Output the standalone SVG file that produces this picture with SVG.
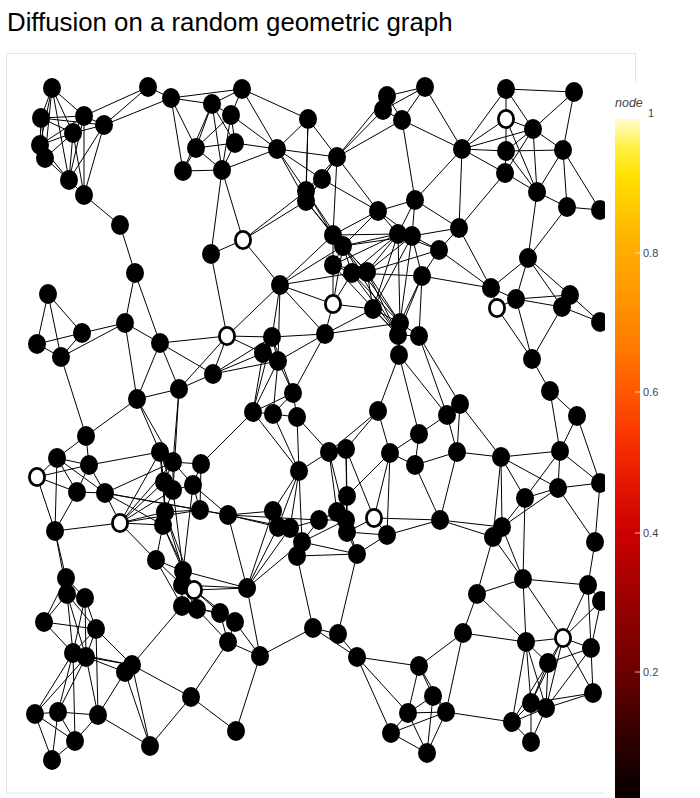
<svg xmlns="http://www.w3.org/2000/svg" width="700" height="798" viewBox="0 0 700 798">
<style>
.e path{stroke:#000;stroke-width:1;fill:none}
.n{fill:#000}
.h{fill:#fff;stroke:#000;stroke-width:2.8}
.t{font-family:"Liberation Sans",Arial,sans-serif;fill:#444;font-size:11px}
</style>
<defs>
<linearGradient id="hot" gradientUnits="userSpaceOnUse" x1="0" y1="812" x2="0" y2="113">
<stop offset="0" stop-color="#000000"/>
<stop offset="0.05" stop-color="#120000"/>
<stop offset="0.1" stop-color="#2e0000"/>
<stop offset="0.15" stop-color="#4c0000"/>
<stop offset="0.2" stop-color="#6c0000"/>
<stop offset="0.27" stop-color="#8c0000"/>
<stop offset="0.33" stop-color="#a80000"/>
<stop offset="0.4" stop-color="#cc0000"/>
<stop offset="0.47" stop-color="#e41800"/>
<stop offset="0.53" stop-color="#f83000"/>
<stop offset="0.6" stop-color="#ff5800"/>
<stop offset="0.67" stop-color="#ff7c00"/>
<stop offset="0.73" stop-color="#ff9400"/>
<stop offset="0.8" stop-color="#ffab00"/>
<stop offset="0.86" stop-color="#ffc600"/>
<stop offset="0.91" stop-color="#ffe000"/>
<stop offset="0.95" stop-color="#fff040"/>
<stop offset="1" stop-color="#ffffe8"/>
</linearGradient>
</defs>
<rect x="0" y="0" width="700" height="798" fill="#fff"/>
<text x="7" y="31" font-family="Liberation Sans, Arial, sans-serif" font-size="25.8" fill="#000">Diffusion on a random geometric graph</text>
<rect x="6.5" y="53.5" width="629" height="739.5" fill="none" stroke="#e5e5e5" stroke-width="1"/>
<g id="connectors" class="e">
<path d="M52 88L41 118"/><path d="M52 88L84 116"/><path d="M52 88L73 133"/><path d="M52 88L40 145"/><path d="M52 88L45 158"/><path d="M52 88L69 180"/>
<path d="M41 118L84 116"/><path d="M41 118L73 133"/><path d="M41 118L104 125"/><path d="M41 118L40 145"/><path d="M41 118L45 158"/>
<path d="M84 116L73 133"/><path d="M84 116L104 125"/><path d="M84 116L40 145"/><path d="M84 116L69 180"/><path d="M84 116L84 195"/><path d="M84 116L148 87"/>
<path d="M73 133L104 125"/><path d="M73 133L40 145"/><path d="M73 133L45 158"/><path d="M73 133L69 180"/><path d="M73 133L84 195"/>
<path d="M104 125L69 180"/><path d="M104 125L84 195"/><path d="M104 125L148 87"/><path d="M104 125L171 98"/>
<path d="M40 145L45 158"/><path d="M40 145L69 180"/><path d="M45 158L69 180"/><path d="M69 180L84 195"/><path d="M84 195L120 225"/><path d="M120 225L135 273"/>
<path d="M148 87L171 98"/><path d="M171 98L212 104"/><path d="M171 98L242 89"/><path d="M171 98L196 148"/><path d="M171 98L183 171"/>
<path d="M212 104L231 115"/><path d="M212 104L242 89"/><path d="M212 104L196 148"/><path d="M212 104L235 143"/><path d="M212 104L183 171"/><path d="M212 104L222 170"/>
<path d="M231 115L242 89"/><path d="M231 115L196 148"/><path d="M231 115L235 143"/><path d="M231 115L222 170"/>
<path d="M196 148L235 143"/><path d="M196 148L183 171"/><path d="M196 148L222 170"/><path d="M235 143L222 170"/><path d="M183 171L222 170"/>
<path d="M231 115L277 149"/><path d="M242 89L277 149"/><path d="M235 143L277 149"/><path d="M222 170L277 149"/><path d="M242 89L308 119"/>
<path d="M277 149L308 119"/><path d="M277 149L337 157"/><path d="M277 149L322 179"/><path d="M277 149L306 191"/><path d="M277 149L306 201"/>
<path d="M308 119L337 157"/><path d="M308 119L306 191"/><path d="M308 119L306 201"/>
<path d="M337 157L322 179"/><path d="M337 157L306 191"/><path d="M337 157L306 201"/><path d="M337 157L387 96"/><path d="M337 157L383 110"/><path d="M337 157L402 120"/><path d="M337 157L378 211"/><path d="M337 157L333 235"/>
<path d="M322 179L306 191"/><path d="M322 179L306 201"/><path d="M322 179L378 211"/><path d="M306 191L306 201"/>
<path d="M306 191L333 235"/><path d="M306 191L343 246"/><path d="M306 201L333 235"/><path d="M306 201L343 246"/>
<path d="M306 191L243 240"/><path d="M306 201L243 240"/><path d="M222 170L243 240"/><path d="M222 170L211 254"/><path d="M243 240L211 254"/>
<path d="M387 96L383 110"/><path d="M387 96L402 120"/><path d="M387 96L425 87"/><path d="M383 110L402 120"/><path d="M383 110L425 87"/><path d="M402 120L425 87"/>
<path d="M402 120L415 200"/><path d="M402 120L462 149"/><path d="M425 87L462 149"/><path d="M462 149L415 200"/>
<path d="M415 200L378 211"/><path d="M415 200L398 234"/><path d="M415 200L412 236"/><path d="M415 200L459 228"/>
<path d="M378 211L333 235"/><path d="M378 211L343 246"/><path d="M378 211L398 234"/><path d="M378 211L412 236"/>
<path d="M459 228L412 236"/><path d="M459 228L439 250"/>
<path d="M462 149L506 89"/><path d="M462 149L506 119"/><path d="M462 149L533 129"/><path d="M462 149L506 151"/><path d="M462 149L505 173"/><path d="M462 149L459 228"/>
<path d="M506 89L574 92"/><path d="M506 89L506 119"/><path d="M506 89L533 129"/><path d="M574 92L533 129"/><path d="M574 92L563 150"/>
<path d="M506 119L533 129"/><path d="M506 119L506 151"/><path d="M506 119L537 192"/>
<path d="M533 129L506 151"/><path d="M533 129L563 150"/><path d="M533 129L505 173"/><path d="M533 129L537 192"/>
<path d="M506 151L563 150"/><path d="M506 151L505 173"/><path d="M506 151L537 192"/>
<path d="M563 150L537 192"/><path d="M563 150L567 207"/><path d="M563 150L600 210"/>
<path d="M505 173L537 192"/><path d="M505 173L459 228"/><path d="M537 192L567 207"/><path d="M537 192L528 258"/><path d="M567 207L600 210"/><path d="M567 207L528 258"/>
<path d="M459 228L491 288"/><path d="M439 250L491 288"/><path d="M422 276L491 288"/><path d="M528 258L491 288"/>
<path d="M528 258L516 299"/><path d="M528 258L570 295"/><path d="M528 258L562 307"/>
<path d="M491 288L497 308"/><path d="M491 288L516 299"/><path d="M497 308L516 299"/><path d="M497 308L532 359"/>
<path d="M516 299L570 295"/><path d="M516 299L562 307"/><path d="M516 299L532 359"/>
<path d="M570 295L562 307"/><path d="M570 295L600 322"/><path d="M562 307L600 322"/><path d="M562 307L532 359"/>
<path d="M532 359L550 391"/><path d="M550 391L577 416"/><path d="M550 391L560 451"/><path d="M577 416L560 451"/><path d="M577 416L600 483"/>
<path d="M48 294L82 333"/><path d="M48 294L37 344"/><path d="M48 294L61 357"/><path d="M82 333L37 344"/><path d="M82 333L61 357"/><path d="M37 344L61 357"/>
<path d="M82 333L125 323"/><path d="M61 357L125 323"/><path d="M125 323L135 273"/><path d="M135 273L160 343"/><path d="M125 323L160 343"/><path d="M125 323L137 399"/>
<path d="M160 343L227 336"/><path d="M160 343L213 374"/><path d="M160 343L179 389"/><path d="M160 343L137 399"/>
<path d="M227 336L213 374"/><path d="M227 336L179 389"/><path d="M213 374L179 389"/><path d="M179 389L137 399"/>
<path d="M211 254L227 336"/><path d="M61 357L86 436"/>
<path d="M243 240L280 285"/><path d="M227 336L280 285"/><path d="M280 285L333 304"/><path d="M280 285L325 334"/><path d="M280 285L272 337"/><path d="M280 285L278 361"/>
<path d="M280 285L333 235"/><path d="M280 285L343 246"/><path d="M280 285L352 273"/>
<path d="M333 304L325 334"/><path d="M333 304L333 265"/><path d="M333 304L352 273"/><path d="M333 304L373 309"/><path d="M333 304L343 246"/>
<path d="M325 334L272 337"/><path d="M325 334L278 361"/><path d="M325 334L293 393"/><path d="M325 334L373 309"/><path d="M325 334L400 323"/>
<path d="M227 336L272 337"/><path d="M227 336L263 353"/><path d="M213 374L272 337"/><path d="M213 374L263 353"/><path d="M213 374L278 361"/>
<path d="M272 337L263 353"/><path d="M272 337L278 361"/><path d="M272 337L293 393"/><path d="M263 353L278 361"/><path d="M263 353L253 412"/>
<path d="M278 361L293 393"/><path d="M278 361L253 412"/><path d="M278 361L273 414"/>
<path d="M293 393L253 412"/><path d="M293 393L273 414"/><path d="M293 393L297 417"/><path d="M272 337L253 412"/>
<path d="M333 265L352 273"/><path d="M333 265L367 272"/><path d="M333 265L333 235"/><path d="M333 265L343 246"/>
<path d="M352 273L367 272"/><path d="M352 273L343 246"/><path d="M352 273L398 234"/><path d="M367 272L398 234"/><path d="M367 272L412 236"/>
<path d="M367 272L373 309"/><path d="M367 272L400 323"/><path d="M352 273L400 323"/><path d="M352 273L398 335"/><path d="M367 272L398 335"/>
<path d="M367 272L439 250"/><path d="M352 273L422 276"/>
<path d="M343 246L400 323"/><path d="M343 246L398 335"/><path d="M333 265L398 335"/><path d="M333 235L398 234"/><path d="M343 246L398 234"/><path d="M343 246L412 236"/>
<path d="M333 265L398 234"/><path d="M398 234L373 309"/><path d="M412 236L373 309"/><path d="M398 234L400 323"/><path d="M412 236L400 323"/><path d="M422 276L398 335"/>
<path d="M333 235L367 272"/><path d="M343 246L367 272"/>
<path d="M398 234L412 236"/><path d="M398 234L439 250"/><path d="M412 236L439 250"/><path d="M412 236L422 276"/><path d="M439 250L422 276"/>
<path d="M422 276L419 336"/><path d="M422 276L400 323"/><path d="M400 323L419 336"/><path d="M398 335L419 336"/><path d="M400 323L398 335"/>
<path d="M400 323L399 355"/><path d="M398 335L399 355"/><path d="M373 309L400 323"/><path d="M373 309L398 335"/>
<path d="M399 355L378 411"/><path d="M399 355L419 434"/><path d="M399 355L447 415"/><path d="M419 336L460 404"/><path d="M419 336L447 415"/>
<path d="M86 436L57 458"/><path d="M86 436L89 465"/><path d="M86 436L137 399"/>
<path d="M57 458L37 477"/><path d="M57 458L89 465"/><path d="M57 458L77 492"/><path d="M57 458L105 493"/><path d="M57 458L55 531"/>
<path d="M37 477L89 465"/><path d="M37 477L77 492"/><path d="M37 477L55 531"/>
<path d="M89 465L77 492"/><path d="M89 465L105 493"/><path d="M89 465L160 452"/><path d="M77 492L105 493"/><path d="M77 492L55 531"/>
<path d="M105 493L120 523"/><path d="M105 493L173 462"/><path d="M105 493L200 510"/><path d="M105 493L228 515"/><path d="M105 493L163 525"/>
<path d="M120 523L55 531"/><path d="M120 523L160 452"/><path d="M120 523L173 462"/><path d="M120 523L164 482"/><path d="M120 523L173 490"/><path d="M120 523L165 512"/><path d="M120 523L163 525"/><path d="M120 523L200 510"/><path d="M120 523L156 560"/>
<path d="M160 452L173 462"/><path d="M160 452L164 482"/><path d="M160 452L173 490"/><path d="M160 452L165 512"/>
<path d="M137 399L160 452"/><path d="M137 399L173 462"/><path d="M179 389L173 462"/><path d="M179 389L173 490"/>
<path d="M173 462L201 464"/><path d="M173 462L164 482"/><path d="M173 462L173 490"/><path d="M173 462L193 485"/>
<path d="M201 464L193 485"/><path d="M201 464L200 510"/><path d="M201 464L253 412"/>
<path d="M164 482L173 490"/><path d="M164 482L165 512"/><path d="M173 490L193 485"/><path d="M173 490L165 512"/>
<path d="M193 485L200 510"/><path d="M193 485L228 515"/><path d="M200 510L228 515"/><path d="M200 510L165 512"/>
<path d="M165 512L163 525"/><path d="M163 525L156 560"/><path d="M156 560L183 571"/><path d="M183 571L194 590"/><path d="M183 571L182 585"/><path d="M194 590L182 585"/>
<path d="M156 560L182 585"/><path d="M165 512L183 571"/><path d="M163 525L183 571"/><path d="M163 525L194 590"/>
<path d="M173 490L183 571"/><path d="M165 512L194 590"/><path d="M193 485L183 571"/>
<path d="M253 412L273 414"/><path d="M273 414L297 417"/><path d="M253 412L299 471"/><path d="M273 414L299 471"/><path d="M297 417L299 471"/><path d="M297 417L329 452"/>
<path d="M299 471L329 452"/><path d="M299 471L273 511"/><path d="M299 471L278 527"/><path d="M299 471L290 528"/><path d="M299 471L302 542"/>
<path d="M329 452L346 449"/><path d="M329 452L337 512"/><path d="M329 452L346 520"/>
<path d="M378 411L346 449"/><path d="M378 411L329 452"/><path d="M346 449L347 496"/><path d="M346 449L347 532"/><path d="M346 449L374 518"/>
<path d="M378 411L390 453"/><path d="M419 434L390 453"/><path d="M419 434L415 465"/><path d="M419 434L447 415"/>
<path d="M390 453L415 465"/><path d="M415 465L457 452"/><path d="M390 453L374 518"/><path d="M390 453L347 496"/><path d="M390 453L387 535"/>
<path d="M415 465L440 520"/><path d="M457 452L440 520"/><path d="M440 520L387 535"/>
<path d="M228 515L273 511"/><path d="M228 515L278 527"/><path d="M228 515L290 528"/><path d="M228 515L319 520"/>
<path d="M273 511L278 527"/><path d="M273 511L290 528"/><path d="M278 527L290 528"/><path d="M290 528L302 542"/><path d="M302 542L297 556"/>
<path d="M290 528L319 520"/><path d="M319 520L337 512"/><path d="M319 520L346 520"/>
<path d="M347 496L337 512"/><path d="M347 496L346 520"/><path d="M347 496L347 532"/><path d="M337 512L346 520"/><path d="M346 520L347 532"/>
<path d="M347 532L374 518"/><path d="M374 518L387 535"/><path d="M347 532L387 535"/><path d="M347 532L357 554"/><path d="M346 520L357 554"/><path d="M357 554L387 535"/>
<path d="M302 542L357 554"/><path d="M297 556L357 554"/><path d="M302 542L319 520"/><path d="M302 542L346 520"/><path d="M374 518L440 520"/>
<path d="M247 588L290 528"/><path d="M247 588L278 527"/><path d="M247 588L302 542"/><path d="M247 588L273 511"/><path d="M247 588L228 515"/>
<path d="M297 556L313 628"/><path d="M357 554L338 634"/>
<path d="M183 571L247 588"/><path d="M194 590L247 588"/><path d="M182 585L247 588"/>
<path d="M460 404L447 415"/><path d="M460 404L457 452"/><path d="M447 415L457 452"/><path d="M460 404L501 457"/><path d="M457 452L501 457"/>
<path d="M501 457L560 451"/><path d="M501 457L525 498"/><path d="M501 457L558 488"/><path d="M501 457L502 527"/><path d="M501 457L493 537"/>
<path d="M560 451L558 488"/><path d="M560 451L525 498"/><path d="M560 451L600 483"/>
<path d="M600 483L558 488"/><path d="M558 488L525 498"/><path d="M558 488L502 527"/><path d="M558 488L595 542"/>
<path d="M525 498L502 527"/><path d="M525 498L523 579"/><path d="M440 520L493 537"/><path d="M440 520L502 527"/>
<path d="M502 527L523 579"/><path d="M493 537L523 579"/><path d="M493 537L477 594"/>
<path d="M523 579L588 585"/><path d="M595 542L588 585"/><path d="M595 542L600 483"/><path d="M588 585L601 601"/>
<path d="M66 578L67 594"/><path d="M66 578L85 598"/><path d="M67 594L85 598"/><path d="M66 578L44 622"/><path d="M67 594L44 622"/>
<path d="M44 622L96 629"/><path d="M44 622L73 653"/><path d="M67 594L96 629"/><path d="M85 598L96 629"/>
<path d="M67 594L73 653"/><path d="M67 594L86 657"/><path d="M85 598L73 653"/><path d="M85 598L86 657"/>
<path d="M96 629L73 653"/><path d="M96 629L86 657"/><path d="M73 653L86 657"/><path d="M96 629L132 665"/><path d="M73 653L132 665"/><path d="M86 657L132 665"/><path d="M86 657L125 672"/><path d="M132 665L125 672"/>
<path d="M96 629L98 715"/><path d="M73 653L35 714"/><path d="M73 653L58 712"/><path d="M86 657L35 714"/><path d="M86 657L58 712"/><path d="M86 657L98 715"/><path d="M73 653L75 741"/>
<path d="M35 714L58 712"/><path d="M58 712L98 715"/><path d="M35 714L75 741"/><path d="M35 714L52 760"/><path d="M58 712L75 741"/><path d="M98 715L75 741"/><path d="M75 741L52 760"/><path d="M58 712L52 760"/>
<path d="M125 672L98 715"/><path d="M132 665L150 746"/><path d="M125 672L150 746"/><path d="M132 665L191 697"/><path d="M132 665L182 606"/>
<path d="M98 715L150 746"/><path d="M191 697L150 746"/><path d="M191 697L228 642"/><path d="M191 697L236 731"/>
<path d="M182 606L197 609"/><path d="M182 606L220 613"/><path d="M197 609L220 613"/><path d="M220 613L235 622"/><path d="M220 613L228 642"/><path d="M235 622L228 642"/><path d="M197 609L228 642"/>
<path d="M55 531L66 578"/><path d="M55 531L67 594"/>
<path d="M156 560L182 606"/><path d="M182 585L182 606"/><path d="M194 590L182 606"/><path d="M194 590L197 609"/><path d="M194 590L220 613"/><path d="M182 585L197 609"/><path d="M194 590L235 622"/>
<path d="M247 588L260 656"/><path d="M235 622L260 656"/><path d="M228 642L260 656"/><path d="M260 656L313 628"/><path d="M260 656L236 731"/>
<path d="M313 628L338 634"/><path d="M313 628L357 657"/><path d="M338 634L357 657"/><path d="M357 657L419 666"/><path d="M357 657L391 733"/><path d="M357 657L408 713"/>
<path d="M419 666L433 696"/><path d="M419 666L408 713"/><path d="M419 666L463 633"/><path d="M433 696L408 713"/><path d="M433 696L446 712"/><path d="M433 696L427 753"/>
<path d="M408 713L446 712"/><path d="M408 713L391 733"/><path d="M408 713L427 753"/><path d="M446 712L391 733"/><path d="M446 712L427 753"/><path d="M391 733L427 753"/><path d="M419 666L446 712"/>
<path d="M477 594L463 633"/><path d="M477 594L526 642"/><path d="M463 633L526 642"/><path d="M463 633L446 712"/><path d="M523 579L526 642"/><path d="M523 579L563 638"/><path d="M523 579L477 594"/>
<path d="M526 642L563 638"/><path d="M526 642L548 663"/><path d="M526 642L531 703"/><path d="M526 642L546 708"/><path d="M526 642L512 722"/>
<path d="M563 638L591 648"/><path d="M563 638L548 663"/><path d="M563 638L588 585"/><path d="M563 638L601 601"/><path d="M563 638L593 693"/><path d="M563 638L531 703"/><path d="M563 638L546 708"/>
<path d="M591 648L601 601"/><path d="M591 648L588 585"/><path d="M591 648L548 663"/><path d="M591 648L593 693"/><path d="M591 648L546 708"/>
<path d="M548 663L531 703"/><path d="M548 663L546 708"/><path d="M548 663L512 722"/><path d="M593 693L546 708"/><path d="M593 693L531 703"/>
<path d="M531 703L546 708"/><path d="M531 703L512 722"/><path d="M531 703L531 742"/><path d="M546 708L531 742"/><path d="M512 722L531 742"/><path d="M512 722L446 712"/><path d="M546 708L512 722"/>
</g>
<g id="nodes">
<g id="n1"><ellipse class="n" cx="52" cy="88" rx="9" ry="10"/></g>
<g id="n2"><ellipse class="n" cx="41" cy="118" rx="9" ry="10"/></g>
<g id="n3"><ellipse class="n" cx="84" cy="116" rx="9" ry="10"/></g>
<g id="n4"><ellipse class="n" cx="73" cy="133" rx="9" ry="10"/></g>
<g id="n5"><ellipse class="n" cx="104" cy="125" rx="9" ry="10"/></g>
<g id="n6"><ellipse class="n" cx="40" cy="145" rx="9" ry="10"/></g>
<g id="n7"><ellipse class="n" cx="45" cy="158" rx="9" ry="10"/></g>
<g id="n8"><ellipse class="n" cx="69" cy="180" rx="9" ry="10"/></g>
<g id="n9"><ellipse class="n" cx="84" cy="195" rx="9" ry="10"/></g>
<g id="n10"><ellipse class="n" cx="120" cy="225" rx="9" ry="10"/></g>
<g id="n11"><ellipse class="n" cx="148" cy="87" rx="9" ry="10"/></g>
<g id="n12"><ellipse class="n" cx="171" cy="98" rx="9" ry="10"/></g>
<g id="n13"><ellipse class="n" cx="212" cy="104" rx="9" ry="10"/></g>
<g id="n14"><ellipse class="n" cx="231" cy="115" rx="9" ry="10"/></g>
<g id="n15"><ellipse class="n" cx="242" cy="89" rx="9" ry="10"/></g>
<g id="n16"><ellipse class="n" cx="196" cy="148" rx="9" ry="10"/></g>
<g id="n17"><ellipse class="n" cx="235" cy="143" rx="9" ry="10"/></g>
<g id="n18"><ellipse class="n" cx="183" cy="171" rx="9" ry="10"/></g>
<g id="n19"><ellipse class="n" cx="222" cy="170" rx="9" ry="10"/></g>
<g id="n20"><ellipse class="n" cx="277" cy="149" rx="9" ry="10"/></g>
<g id="n21"><ellipse class="n" cx="308" cy="119" rx="9" ry="10"/></g>
<g id="n22"><ellipse class="n" cx="337" cy="157" rx="9" ry="10"/></g>
<g id="n23"><ellipse class="n" cx="322" cy="179" rx="9" ry="10"/></g>
<g id="n24"><ellipse class="n" cx="306" cy="191" rx="9" ry="10"/></g>
<g id="n25"><ellipse class="n" cx="306" cy="201" rx="9" ry="10"/></g>
<g id="n26"><ellipse class="n" cx="387" cy="96" rx="9" ry="10"/></g>
<g id="n27"><ellipse class="n" cx="383" cy="110" rx="9" ry="10"/></g>
<g id="n28"><ellipse class="n" cx="402" cy="120" rx="9" ry="10"/></g>
<g id="n29"><ellipse class="n" cx="425" cy="87" rx="9" ry="10"/></g>
<g id="n30"><ellipse class="n" cx="462" cy="149" rx="9" ry="10"/></g>
<g id="n31"><ellipse class="n" cx="415" cy="200" rx="9" ry="10"/></g>
<g id="n32"><ellipse class="n" cx="378" cy="211" rx="9" ry="10"/></g>
<g id="n33"><ellipse class="n" cx="459" cy="228" rx="9" ry="10"/></g>
<g id="n34"><ellipse class="n" cx="333" cy="235" rx="9" ry="10"/></g>
<g id="n35"><ellipse class="n" cx="343" cy="246" rx="9" ry="10"/></g>
<g id="n36"><ellipse class="n" cx="398" cy="234" rx="9" ry="10"/></g>
<g id="n37"><ellipse class="n" cx="412" cy="236" rx="9" ry="10"/></g>
<g id="n38"><ellipse class="h" cx="243" cy="240" rx="7.6" ry="8.7"/></g>
<g id="n39"><ellipse class="n" cx="211" cy="254" rx="9" ry="10"/></g>
<g id="n40"><ellipse class="n" cx="135" cy="273" rx="9" ry="10"/></g>
<g id="n41"><ellipse class="n" cx="506" cy="89" rx="9" ry="10"/></g>
<g id="n42"><ellipse class="n" cx="574" cy="92" rx="9" ry="10"/></g>
<g id="n43"><ellipse class="h" cx="506" cy="119" rx="7.6" ry="8.7"/></g>
<g id="n44"><ellipse class="n" cx="533" cy="129" rx="9" ry="10"/></g>
<g id="n45"><ellipse class="n" cx="506" cy="151" rx="9" ry="10"/></g>
<g id="n46"><ellipse class="n" cx="563" cy="150" rx="9" ry="10"/></g>
<g id="n47"><ellipse class="n" cx="505" cy="173" rx="9" ry="10"/></g>
<g id="n48"><ellipse class="n" cx="537" cy="192" rx="9" ry="10"/></g>
<g id="n49"><ellipse class="n" cx="567" cy="207" rx="9" ry="10"/></g>
<g id="n50"><ellipse class="n" cx="600" cy="210" rx="9" ry="10"/></g>
<g id="n51"><ellipse class="n" cx="528" cy="258" rx="9" ry="10"/></g>
<g id="n52"><ellipse class="n" cx="491" cy="288" rx="9" ry="10"/></g>
<g id="n53"><ellipse class="h" cx="497" cy="308" rx="7.6" ry="8.7"/></g>
<g id="n54"><ellipse class="n" cx="516" cy="299" rx="9" ry="10"/></g>
<g id="n55"><ellipse class="n" cx="570" cy="295" rx="9" ry="10"/></g>
<g id="n56"><ellipse class="n" cx="562" cy="307" rx="9" ry="10"/></g>
<g id="n57"><ellipse class="n" cx="600" cy="322" rx="9" ry="10"/></g>
<g id="n58"><ellipse class="n" cx="532" cy="359" rx="9" ry="10"/></g>
<g id="n59"><ellipse class="n" cx="550" cy="391" rx="9" ry="10"/></g>
<g id="n60"><ellipse class="n" cx="577" cy="416" rx="9" ry="10"/></g>
<g id="n61"><ellipse class="n" cx="460" cy="404" rx="9" ry="10"/></g>
<g id="n62"><ellipse class="n" cx="447" cy="415" rx="9" ry="10"/></g>
<g id="n63"><ellipse class="n" cx="48" cy="294" rx="9" ry="10"/></g>
<g id="n64"><ellipse class="n" cx="82" cy="333" rx="9" ry="10"/></g>
<g id="n65"><ellipse class="n" cx="37" cy="344" rx="9" ry="10"/></g>
<g id="n66"><ellipse class="n" cx="61" cy="357" rx="9" ry="10"/></g>
<g id="n67"><ellipse class="n" cx="125" cy="323" rx="9" ry="10"/></g>
<g id="n68"><ellipse class="n" cx="160" cy="343" rx="9" ry="10"/></g>
<g id="n69"><ellipse class="h" cx="227" cy="336" rx="7.6" ry="8.7"/></g>
<g id="n70"><ellipse class="n" cx="213" cy="374" rx="9" ry="10"/></g>
<g id="n71"><ellipse class="n" cx="179" cy="389" rx="9" ry="10"/></g>
<g id="n72"><ellipse class="n" cx="137" cy="399" rx="9" ry="10"/></g>
<g id="n73"><ellipse class="n" cx="280" cy="285" rx="9" ry="10"/></g>
<g id="n74"><ellipse class="h" cx="333" cy="304" rx="7.6" ry="8.7"/></g>
<g id="n75"><ellipse class="n" cx="325" cy="334" rx="9" ry="10"/></g>
<g id="n76"><ellipse class="n" cx="272" cy="337" rx="9" ry="10"/></g>
<g id="n77"><ellipse class="n" cx="263" cy="353" rx="9" ry="10"/></g>
<g id="n78"><ellipse class="n" cx="278" cy="361" rx="9" ry="10"/></g>
<g id="n79"><ellipse class="n" cx="293" cy="393" rx="9" ry="10"/></g>
<g id="n80"><ellipse class="n" cx="253" cy="412" rx="9" ry="10"/></g>
<g id="n81"><ellipse class="n" cx="273" cy="414" rx="9" ry="10"/></g>
<g id="n82"><ellipse class="n" cx="297" cy="417" rx="9" ry="10"/></g>
<g id="n83"><ellipse class="n" cx="333" cy="265" rx="9" ry="10"/></g>
<g id="n84"><ellipse class="n" cx="352" cy="273" rx="9" ry="10"/></g>
<g id="n85"><ellipse class="n" cx="367" cy="272" rx="9" ry="10"/></g>
<g id="n86"><ellipse class="n" cx="439" cy="250" rx="9" ry="10"/></g>
<g id="n87"><ellipse class="n" cx="422" cy="276" rx="9" ry="10"/></g>
<g id="n88"><ellipse class="n" cx="373" cy="309" rx="9" ry="10"/></g>
<g id="n89"><ellipse class="n" cx="400" cy="323" rx="9" ry="10"/></g>
<g id="n90"><ellipse class="n" cx="398" cy="335" rx="9" ry="10"/></g>
<g id="n91"><ellipse class="n" cx="419" cy="336" rx="9" ry="10"/></g>
<g id="n92"><ellipse class="n" cx="399" cy="355" rx="9" ry="10"/></g>
<g id="n93"><ellipse class="n" cx="378" cy="411" rx="9" ry="10"/></g>
<g id="n95"><ellipse class="n" cx="86" cy="436" rx="9" ry="10"/></g>
<g id="n96"><ellipse class="n" cx="57" cy="458" rx="9" ry="10"/></g>
<g id="n97"><ellipse class="h" cx="37" cy="477" rx="7.6" ry="8.7"/></g>
<g id="n98"><ellipse class="n" cx="89" cy="465" rx="9" ry="10"/></g>
<g id="n99"><ellipse class="n" cx="77" cy="492" rx="9" ry="10"/></g>
<g id="n100"><ellipse class="n" cx="105" cy="493" rx="9" ry="10"/></g>
<g id="n101"><ellipse class="h" cx="120" cy="523" rx="7.6" ry="8.7"/></g>
<g id="n102"><ellipse class="n" cx="55" cy="531" rx="9" ry="10"/></g>
<g id="n103"><ellipse class="n" cx="160" cy="452" rx="9" ry="10"/></g>
<g id="n104"><ellipse class="n" cx="173" cy="462" rx="9" ry="10"/></g>
<g id="n105"><ellipse class="n" cx="201" cy="464" rx="9" ry="10"/></g>
<g id="n106"><ellipse class="n" cx="164" cy="482" rx="9" ry="10"/></g>
<g id="n107"><ellipse class="n" cx="173" cy="490" rx="9" ry="10"/></g>
<g id="n108"><ellipse class="n" cx="193" cy="485" rx="9" ry="10"/></g>
<g id="n109"><ellipse class="n" cx="200" cy="510" rx="9" ry="10"/></g>
<g id="n110"><ellipse class="n" cx="228" cy="515" rx="9" ry="10"/></g>
<g id="n111"><ellipse class="n" cx="165" cy="512" rx="9" ry="10"/></g>
<g id="n112"><ellipse class="n" cx="163" cy="525" rx="9" ry="10"/></g>
<g id="n113"><ellipse class="n" cx="156" cy="560" rx="9" ry="10"/></g>
<g id="n114"><ellipse class="n" cx="183" cy="571" rx="9" ry="10"/></g>
<g id="n116"><ellipse class="n" cx="182" cy="585" rx="9" ry="10"/></g>
<g id="n115"><ellipse class="h" cx="194" cy="590" rx="7.6" ry="8.7"/></g>
<g id="n117"><ellipse class="n" cx="66" cy="578" rx="9" ry="10"/></g>
<g id="n118"><ellipse class="n" cx="67" cy="594" rx="9" ry="10"/></g>
<g id="n119"><ellipse class="n" cx="85" cy="598" rx="9" ry="10"/></g>
<g id="n121"><ellipse class="n" cx="329" cy="452" rx="9" ry="10"/></g>
<g id="n122"><ellipse class="n" cx="346" cy="449" rx="9" ry="10"/></g>
<g id="n123"><ellipse class="n" cx="299" cy="471" rx="9" ry="10"/></g>
<g id="n125"><ellipse class="n" cx="419" cy="434" rx="9" ry="10"/></g>
<g id="n127"><ellipse class="n" cx="390" cy="453" rx="9" ry="10"/></g>
<g id="n128"><ellipse class="n" cx="415" cy="465" rx="9" ry="10"/></g>
<g id="n129"><ellipse class="n" cx="457" cy="452" rx="9" ry="10"/></g>
<g id="n131"><ellipse class="n" cx="273" cy="511" rx="9" ry="10"/></g>
<g id="n132"><ellipse class="n" cx="278" cy="527" rx="9" ry="10"/></g>
<g id="n133"><ellipse class="n" cx="290" cy="528" rx="9" ry="10"/></g>
<g id="n134"><ellipse class="n" cx="302" cy="542" rx="9" ry="10"/></g>
<g id="n135"><ellipse class="n" cx="297" cy="556" rx="9" ry="10"/></g>
<g id="n136"><ellipse class="n" cx="319" cy="520" rx="9" ry="10"/></g>
<g id="n137"><ellipse class="n" cx="347" cy="496" rx="9" ry="10"/></g>
<g id="n138"><ellipse class="n" cx="337" cy="512" rx="9" ry="10"/></g>
<g id="n139"><ellipse class="n" cx="346" cy="520" rx="9" ry="10"/></g>
<g id="n140"><ellipse class="n" cx="347" cy="532" rx="9" ry="10"/></g>
<g id="n141"><ellipse class="h" cx="374" cy="518" rx="7.6" ry="8.7"/></g>
<g id="n142"><ellipse class="n" cx="387" cy="535" rx="9" ry="10"/></g>
<g id="n143"><ellipse class="n" cx="357" cy="554" rx="9" ry="10"/></g>
<g id="n144"><ellipse class="n" cx="440" cy="520" rx="9" ry="10"/></g>
<g id="n145"><ellipse class="n" cx="247" cy="588" rx="9" ry="10"/></g>
<g id="n147"><ellipse class="n" cx="501" cy="457" rx="9" ry="10"/></g>
<g id="n148"><ellipse class="n" cx="560" cy="451" rx="9" ry="10"/></g>
<g id="n150"><ellipse class="n" cx="600" cy="483" rx="9" ry="10"/></g>
<g id="n151"><ellipse class="n" cx="558" cy="488" rx="9" ry="10"/></g>
<g id="n152"><ellipse class="n" cx="525" cy="498" rx="9" ry="10"/></g>
<g id="n153"><ellipse class="n" cx="502" cy="527" rx="9" ry="10"/></g>
<g id="n154"><ellipse class="n" cx="493" cy="537" rx="9" ry="10"/></g>
<g id="n155"><ellipse class="n" cx="595" cy="542" rx="9" ry="10"/></g>
<g id="n156"><ellipse class="n" cx="523" cy="579" rx="9" ry="10"/></g>
<g id="n157"><ellipse class="n" cx="588" cy="585" rx="9" ry="10"/></g>
<g id="n158"><ellipse class="n" cx="477" cy="594" rx="9" ry="10"/></g>
<g id="n159"><ellipse class="n" cx="601" cy="601" rx="9" ry="10"/></g>
<g id="n160"><ellipse class="n" cx="44" cy="622" rx="9" ry="10"/></g>
<g id="n161"><ellipse class="n" cx="96" cy="629" rx="9" ry="10"/></g>
<g id="n162"><ellipse class="n" cx="73" cy="653" rx="9" ry="10"/></g>
<g id="n163"><ellipse class="n" cx="86" cy="657" rx="9" ry="10"/></g>
<g id="n164"><ellipse class="n" cx="132" cy="665" rx="9" ry="10"/></g>
<g id="n165"><ellipse class="n" cx="125" cy="672" rx="9" ry="10"/></g>
<g id="n166"><ellipse class="n" cx="182" cy="606" rx="9" ry="10"/></g>
<g id="n167"><ellipse class="n" cx="197" cy="609" rx="9" ry="10"/></g>
<g id="n168"><ellipse class="n" cx="220" cy="613" rx="9" ry="10"/></g>
<g id="n169"><ellipse class="n" cx="235" cy="622" rx="9" ry="10"/></g>
<g id="n170"><ellipse class="n" cx="228" cy="642" rx="9" ry="10"/></g>
<g id="n171"><ellipse class="n" cx="191" cy="697" rx="9" ry="10"/></g>
<g id="n172"><ellipse class="n" cx="236" cy="731" rx="9" ry="10"/></g>
<g id="n173"><ellipse class="n" cx="35" cy="714" rx="9" ry="10"/></g>
<g id="n174"><ellipse class="n" cx="58" cy="712" rx="9" ry="10"/></g>
<g id="n175"><ellipse class="n" cx="98" cy="715" rx="9" ry="10"/></g>
<g id="n176"><ellipse class="n" cx="75" cy="741" rx="9" ry="10"/></g>
<g id="n177"><ellipse class="n" cx="52" cy="760" rx="9" ry="10"/></g>
<g id="n178"><ellipse class="n" cx="150" cy="746" rx="9" ry="10"/></g>
<g id="n179"><ellipse class="n" cx="260" cy="656" rx="9" ry="10"/></g>
<g id="n180"><ellipse class="n" cx="313" cy="628" rx="9" ry="10"/></g>
<g id="n181"><ellipse class="n" cx="338" cy="634" rx="9" ry="10"/></g>
<g id="n182"><ellipse class="n" cx="357" cy="657" rx="9" ry="10"/></g>
<g id="n183"><ellipse class="n" cx="419" cy="666" rx="9" ry="10"/></g>
<g id="n184"><ellipse class="n" cx="433" cy="696" rx="9" ry="10"/></g>
<g id="n185"><ellipse class="n" cx="408" cy="713" rx="9" ry="10"/></g>
<g id="n186"><ellipse class="n" cx="446" cy="712" rx="9" ry="10"/></g>
<g id="n187"><ellipse class="n" cx="391" cy="733" rx="9" ry="10"/></g>
<g id="n188"><ellipse class="n" cx="427" cy="753" rx="9" ry="10"/></g>
<g id="n189"><ellipse class="n" cx="463" cy="633" rx="9" ry="10"/></g>
<g id="n190"><ellipse class="n" cx="526" cy="642" rx="9" ry="10"/></g>
<g id="n191"><ellipse class="h" cx="563" cy="638" rx="7.6" ry="8.7"/></g>
<g id="n192"><ellipse class="n" cx="591" cy="648" rx="9" ry="10"/></g>
<g id="n193"><ellipse class="n" cx="548" cy="663" rx="9" ry="10"/></g>
<g id="n194"><ellipse class="n" cx="593" cy="693" rx="9" ry="10"/></g>
<g id="n195"><ellipse class="n" cx="531" cy="703" rx="9" ry="10"/></g>
<g id="n196"><ellipse class="n" cx="546" cy="708" rx="9" ry="10"/></g>
<g id="n197"><ellipse class="n" cx="512" cy="722" rx="9" ry="10"/></g>
<g id="n198"><ellipse class="n" cx="531" cy="742" rx="9" ry="10"/></g>
</g>
<g id="colorbar">
<rect x="605" y="83" width="95" height="715" fill="#fff"/>
<rect x="615" y="119" width="25" height="679" fill="url(#hot)"/>
<g stroke="#fff" stroke-opacity="0.7" stroke-width="1">
<path d="M635 253H640M635 392H640M635 533H640M635 672H640"/>
</g>
<text x="615" y="107" font-family="Liberation Sans, Arial, sans-serif" font-size="12.5" font-style="italic" fill="#444">node</text>
<text class="t" x="648" y="117" font-size="9">1</text>
<text class="t" x="643" y="257">0.8</text>
<text class="t" x="643" y="396">0.6</text>
<text class="t" x="643" y="537">0.4</text>
<text class="t" x="643" y="676">0.2</text>
</g>
</svg>
